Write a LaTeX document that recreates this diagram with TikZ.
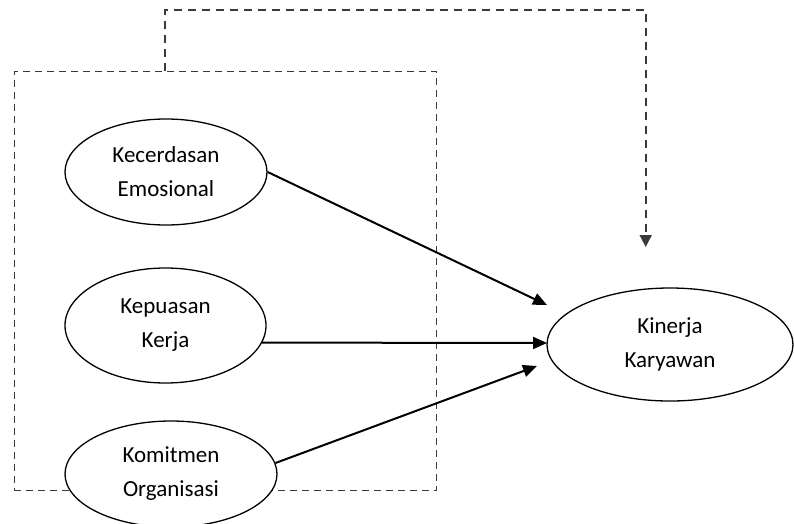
\documentclass[tikz,border=0pt]{standalone}
\usepackage{fontspec}
\setmainfont{Carlito}
\usetikzlibrary{shapes.geometric,arrows.meta}
\definecolor{dashgray}{HTML}{3A3A3A}
\tikzset{
  var/.style={ellipse, draw=black, line width=1.3pt, fill=white, inner sep=0pt,
    align=center, font=\fontsize{23}{34}\selectfont},
  path/.style={line width=2pt, -{Triangle[length=14pt,width=12pt]}},
  groupbox/.style={draw=dashgray, line width=1.3pt, dash pattern=on 7pt off 5pt, inner sep=0pt},
  effect/.style={draw=dashgray, line width=1.8pt, dash pattern=on 8pt off 6pt,
    -{Triangle[length=12pt,width=12pt]}}
}
\begin{document}
\begin{tikzpicture}[x=1pt,y=-1pt]
\useasboundingbox (0,0) rectangle (794,523);
\clip (0,0) rectangle (794,523);
% group box
\node[groupbox, minimum width=422.5pt, minimum height=419pt, anchor=north west] (box) at (13.5,71) {};
\coordinate (s) at (165,71);
\coordinate (t0) at (645.7,247);
\draw[effect] (s) -- (165,10) -| (t0);
% ellipses
\node[var, minimum width=202pt, minimum height=106pt] (ke) at (166,172) {Kecerdasan\\Emosional};
\node[var, minimum width=201pt, minimum height=115pt] (kp) at (165.5,325.5) {Kepuasan\\Kerja};
\node[var, minimum width=212pt, minimum height=106pt] (ko) at (171,474) {Komitmen\\Organisasi};
\node[var, minimum width=246pt, minimum height=113pt] (ki) at (670,344.5) {Kinerja\\Karyawan};
% arrow tips
\coordinate (t1) at (547,305);
\coordinate (t2) at (547,343);
\coordinate (t3) at (537,366);
\draw[path] (ke.east) -- (t1);
\draw[path] (kp.-10.4) -- (t2);
\draw[path] (ko.6) -- (t3);
\end{tikzpicture}
\end{document}
